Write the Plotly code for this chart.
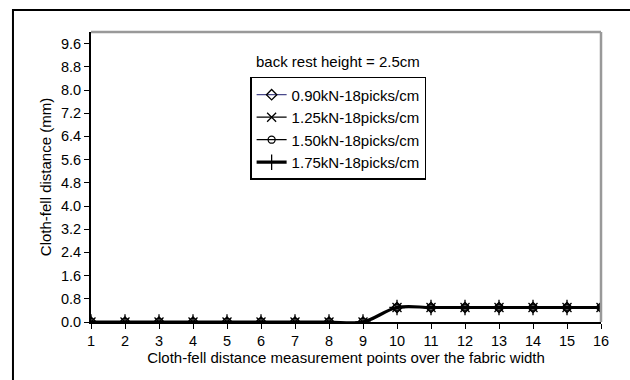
import plotly.graph_objects as go

# Measurement points across the fabric width
points = list(range(1, 17))

# Cloth-fell distance (mm) for each warp tension setting
s_090 = [0, 0, 0, 0, 0, 0, 0, 0, 0, 0.5, 0.5, 0.5, 0.5, 0.5, 0.5, 0.5]
s_125 = [0, 0, 0, 0, 0, 0, 0, 0, 0, 0.5, 0.5, 0.5, 0.5, 0.5, 0.5, 0.5]
s_150 = [0, 0, 0, 0, 0, 0, 0, 0, 0, 0.5, 0.5, 0.5, 0.5, 0.5, 0.5, 0.5]
s_175 = [0, 0, 0, 0, 0, 0, 0, 0, 0, 0.5, 0.5, 0.5, 0.5, 0.5, 0.5, 0.5]

names = ["0.90kN-18picks/cm", "1.25kN-18picks/cm", "1.50kN-18picks/cm", "1.75kN-18picks/cm"]
y_ticks = [0.0, 0.8, 1.6, 2.4, 3.2, 4.0, 4.8, 5.6, 6.4, 7.2, 8.0, 8.8, 9.6]

FONT = "Liberation Sans, Arial, sans-serif"

fig = go.Figure()

styles = [
    dict(data=s_090, color="#4a4a8c", width=1.2, symbol="diamond-open", size=8),
    dict(data=s_125, color="black", width=1.2, symbol="x-thin-open", size=9),
    dict(data=s_150, color="black", width=1.2, symbol="circle-open", size=7),
    dict(data=s_175, color="black", width=3.2, symbol="cross-thin-open", size=11),
]

for name, st in zip(names, styles):
    fig.add_trace(go.Scatter(
        x=points, y=st["data"], name=name, mode="lines+markers",
        line=dict(color=st["color"], width=st["width"], shape="spline", smoothing=1),
        marker=dict(symbol=st["symbol"], size=st["size"],
                    color="black", line=dict(color="black", width=1.3)),
    ))

# outer frame around the figure
fig.add_shape(type="rect", xref="paper", yref="paper",
              x0=-0.153, x1=1.2, y0=-0.4, y1=1.076,
              line=dict(color="black", width=2), layer="below")

fig.add_annotation(text="back rest height = 2.5cm", xref="paper", yref="paper",
                   x=0.485, y=0.935, showarrow=False,
                   font=dict(family=FONT, size=15, color="black"))

fig.update_layout(
    width=630, height=380,
    margin=dict(l=91, r=29, t=32, b=58),
    paper_bgcolor="white", plot_bgcolor="white",
    font=dict(family=FONT, size=15, color="black"),
    showlegend=True,
    legend=dict(x=0.312, y=0.845, xanchor="left", yanchor="top",
                bordercolor="black", borderwidth=1.5, bgcolor="white",
                font=dict(family=FONT, size=15, color="black"),
                tracegroupgap=0),
)

fig.update_xaxes(
    range=[1, 16], tickvals=points, ticks="outside", ticklen=5,
    tickcolor="black", showgrid=False, zeroline=False,
    showline=True, linecolor="black", linewidth=2,
    title=dict(text="Cloth-fell distance measurement points over the fabric width",
               standoff=2, font=dict(size=15)),
    tickfont=dict(size=14.5),
)
fig.update_yaxes(
    range=[0, 10], tickvals=y_ticks, ticktext=[f"{v:.1f}" for v in y_ticks],
    ticks="outside", ticklen=5, tickcolor="black",
    showgrid=False, zeroline=False,
    showline=True, linecolor="black", linewidth=2,
    title=dict(text="Cloth-fell distance (mm)", standoff=6, font=dict(size=15)),
    tickfont=dict(size=14.5),
)

# grey top and right borders of the plotting area
fig.add_shape(type="line", xref="paper", yref="paper", x0=0, x1=1, y0=1, y1=1,
              line=dict(color="#999999", width=2.5))
fig.add_shape(type="line", xref="paper", yref="paper", x0=1, x1=1, y0=0, y1=1,
              line=dict(color="#999999", width=2.5))

fig.write_html("out.html")
